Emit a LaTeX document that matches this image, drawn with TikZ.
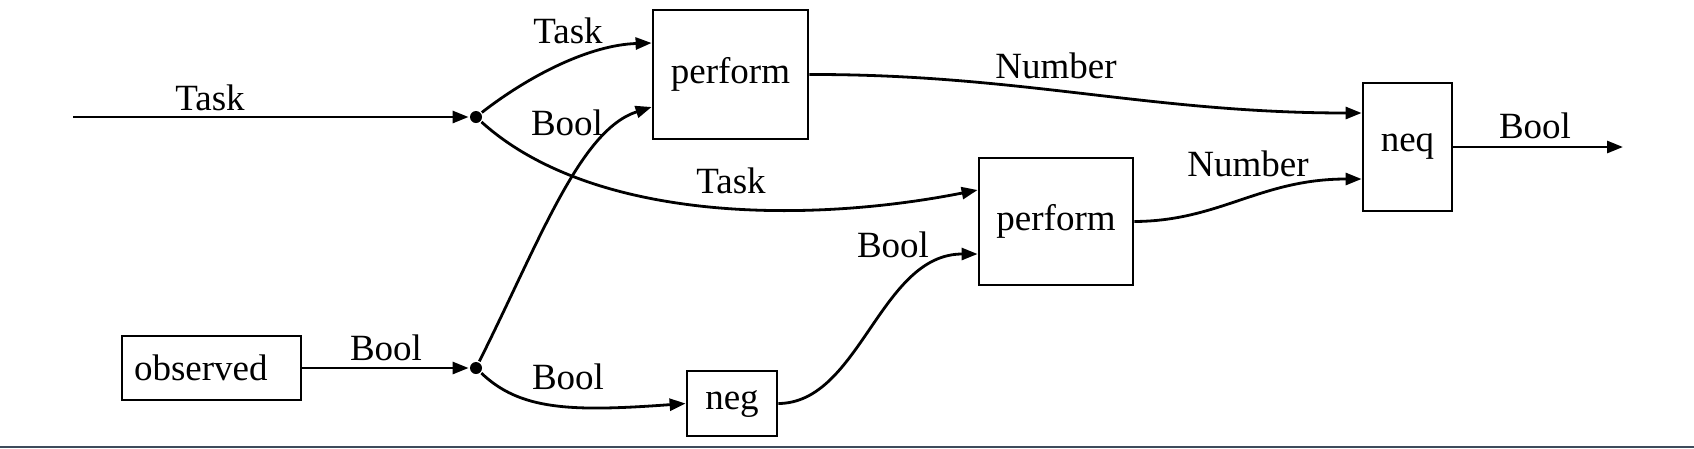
\documentclass[tikz,border=0pt]{standalone}
\usepackage{fontspec}
\setmainfont{Liberation Serif}
\usetikzlibrary{shapes,positioning,arrows,arrows.meta,calc}
\definecolor{barcol}{RGB}{61,75,92}

\begin{document}
\begin{tikzpicture}[x=1pt,y=-1pt,line width=2.8pt,>={Triangle[length=16pt,width=12pt]},
      font=\fontsize{37}{44}\selectfont]
      \tikzstyle{blk}=[draw, rectangle, inner sep=0pt];
      \tikzstyle{junc}=[fill, circle, inner sep=0pt, minimum size=12pt];
      \tikzstyle{lbl}=[anchor=base, inner sep=0pt];

      \useasboundingbox (0,0) rectangle (1694,448);
      \fill [barcol] (0,446) rectangle (1694,448);

      % blocks
      \node (perf1) at (730.5,74.5)[blk, minimum width=155pt, minimum height=129pt]{perform};
      \node (perf2) at (1056,221.5)[blk, minimum width=154pt, minimum height=127pt]{perform};
      \node (neq) at (1407.5,147)[blk, minimum width=89pt, minimum height=128pt]{neq};
      \node (obs) at (211.5,368)[blk, minimum width=179pt, minimum height=64pt, text width=155pt, align=left]{observed};
      \node (neg) at (732,403.5)[blk, minimum width=90pt, minimum height=65pt]{neg};

      % junctions
      \node (j1) at (476,117)[junc]{};
      \node (j2) at (476,368)[junc]{};

      \coordinate (in) at (73,117);
      \coordinate (out) at (1623,147);

      % labels
      \node (lin) at (210,110)[lbl]{Task};
      \node (lt1) at (568,43)[lbl]{Task};
      \node (lb1) at (567,135)[lbl]{Bool};
      \node (lt2) at (731,193)[lbl]{Task};
      \node (lobs) at (386,360)[lbl]{Bool};
      \node (lneg) at (568,389)[lbl]{Bool};
      \node (lb2) at (893,257)[lbl]{Bool};
      \node (ln1) at (1056,78)[lbl]{Number};
      \node (ln2) at (1248,176)[lbl]{Number};
      \node (lout) at (1535,138)[lbl]{Bool};

      % connectors
      \draw [->] (in) -- (j1);
      \draw [->] (obs) -- (j2);

      \draw [->] (j1) .. controls (530,75) and (590,45) .. ([yshift=31.5pt]perf1.west);
      \draw [->] (j1) .. controls (590,220) and (800,225) .. ([yshift=31.5pt]perf2.west);
      \draw [->] (j2) .. controls (540,240) and (580,130) .. ([yshift=-32.5pt]perf1.west);
      \draw [->] (j2) .. controls (520,410) and (570,412) .. (neg.west);

      \draw [->] (neg.east) .. controls (860,403) and (880,254) .. ([yshift=-32.5pt]perf2.west);

      \draw [->] (perf1.east) .. controls (1020,74) and (1150,113) .. ([yshift=34pt]neq.west);
      \draw [->] (perf2.east) .. controls (1220,221) and (1260,179) .. ([yshift=-32pt]neq.west);

      \draw [->] (neq.east) -- (out);

    \end{tikzpicture}
\end{document}
